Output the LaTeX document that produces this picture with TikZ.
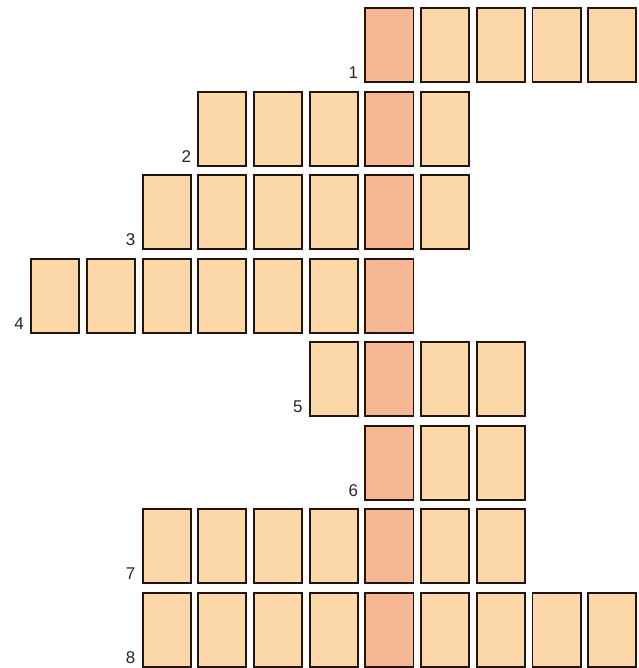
\documentclass[tikz,border=0pt]{standalone}
\usepackage{fontspec}
\setmainfont{Liberation Sans}
\definecolor{cellfill}{HTML}{FCD8A8}
\definecolor{keyfill}{HTML}{F5B794}
\definecolor{celledge}{HTML}{24140F}
\tikzset{
  cellbox/.style={draw=celledge, line width=1.9pt, fill=cellfill, minimum width=48.1pt, minimum height=74.1pt, inner sep=0pt, outer sep=0pt},
  keybox/.style={cellbox, fill=keyfill},
  numlabel/.style={font=\fontsize{17}{17}\selectfont, anchor=base east, inner sep=0pt, text=black!85}
}
\begin{document}
\begin{tikzpicture}[x=1pt, y=-1pt]
\useasboundingbox (0,0) rectangle (638,668);
% rows: row number / first column / last column
\foreach \r/\a/\b in {1/6/10, 2/3/7, 3/2/7, 4/0/6, 5/5/8, 6/6/8, 7/2/8, 8/2/10} {
  \foreach \k in {\a,...,\b} {
    \pgfmathsetmacro{\cx}{55.2+55.7*\k}
    \pgfmathsetmacro{\cy}{45.3+83.5*(\r-1)}
    \ifnum\k=6
      \node[keybox] (c\r-\k) at (\cx,\cy) {};
    \else
      \node[cellbox] (c\r-\k) at (\cx,\cy) {};
    \fi
  }
  \node[numlabel] (l\r) at ([xshift=-7pt, yshift=3.5pt]c\r-\a.south west) {\r};
}
\end{tikzpicture}
\end{document}
